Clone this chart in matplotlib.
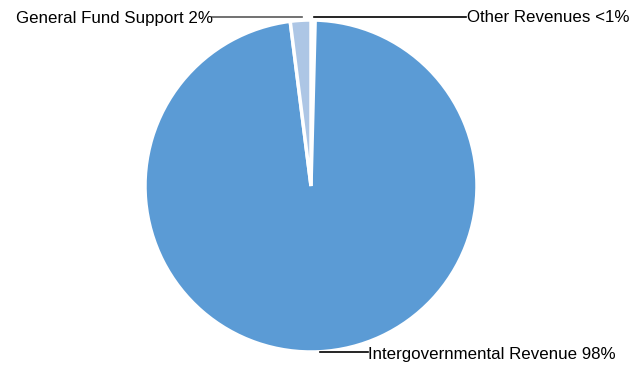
import matplotlib.pyplot as plt

labels = ["Other Revenues <1%", "Intergovernmental Revenue 98%", "General Fund Support 2%"]
values = [0.4, 97.6, 2.0]
colors = ["#FFFFFF", "#5B9BD5", "#ADC6E5"]

W, H = 630, 366
fig = plt.figure(figsize=(W / 100, H / 100), dpi=100)

# pie centre ~ (311, 186), radius ~166 px
cx, cy, r = 311, 186, 166
ax = fig.add_axes([(cx - r) / W, 1 - (cy + r) / H, 2 * r / W, 2 * r / H])
ax.pie(values, colors=colors, startangle=90, counterclock=False,
       wedgeprops=dict(edgecolor="white", linewidth=2.5))
ax.set_aspect("equal")
ax.set_xlim(-1, 1)
ax.set_ylim(-1, 1)

# leader lines and labels in figure pixel coordinates
def px(x, y):
    return x / W, 1 - y / H

font = dict(family="Liberation Sans", fontsize=12.2, color="black")

fig.add_artist(plt.Line2D(*zip(px(212, 17), px(302, 17)), color="#595959", lw=1.2))
fig.text(*px(213, 18), labels[2], ha="right", va="center", **font)

fig.add_artist(plt.Line2D(*zip(px(314, 17), px(466, 17)), color="black", lw=1.2))
fig.text(*px(467, 18), labels[0], ha="left", va="center", **font)

fig.add_artist(plt.Line2D(*zip(px(320, 352), px(368, 352)), color="black", lw=1.2))
fig.text(*px(368, 354), labels[1], ha="left", va="center", **font)

fig.savefig("out.png", dpi=100)
